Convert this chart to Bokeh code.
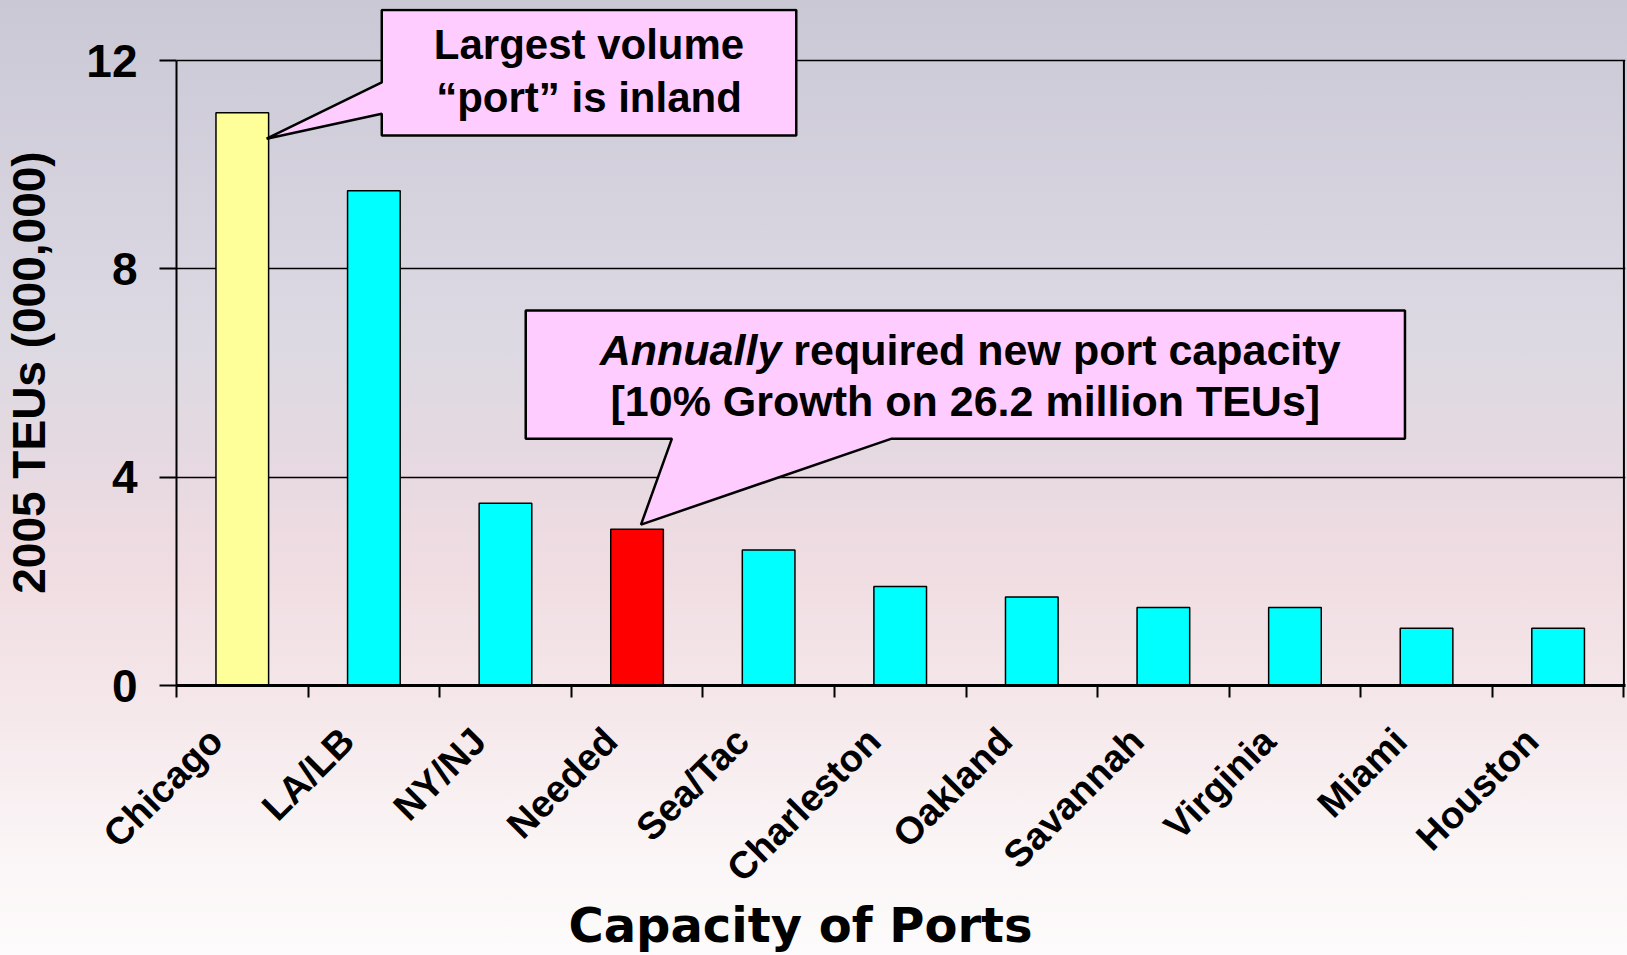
import math
from bokeh.plotting import figure
from bokeh.models import Range1d, FixedTicker, Title
from bokeh.core.properties import value
from bokeh.embed import file_html
from bokeh.resources import INLINE

# ---- data ----
ports = ["Chicago", "LA/LB", "NY/NJ", "Needed", "Sea/Tac", "Charleston",
         "Oakland", "Savannah", "Virginia", "Miami", "Houston"]
teus = [11.0, 9.5, 3.5, 3.0, 2.6, 1.9, 1.7, 1.5, 1.5, 1.1, 1.1]
y_ticks = [0, 4, 8, 12]
inland_port = "Chicago"
needed_item = "Needed"
y_label = "2005 TEUs (000,000)"
x_label = "Capacity of Ports"
note1 = ["Largest volume", "\u201cport\u201d is inland"]
note2_italic = "Annually"
note2_rest = "required new port capacity"
note2_line2 = "[10% Growth on 26.2 million TEUs]"

# ---- styling ----
BAR_W = 0.4
FONT = "Liberation Sans"
n = len(ports)
centers = [i + 0.5 for i in range(n)]
label_pos = [c - BAR_W / 2 for c in centers]
edges = list(range(n + 1))
colors = ["#ffff99" if c == inland_port else "#ff0000" if c == needed_item else "#00ffff"
          for c in ports]
y_top = y_ticks[-1]

p = figure(width=1627, height=955, x_range=Range1d(0, n + 0.012), y_range=Range1d(0, 13.0),
           output_backend="svg", toolbar_location=None,
           min_border_left=176, min_border_right=2, min_border_top=8, min_border_bottom=270)
p.outline_line_color = None
p.background_fill_alpha = 0
p.border_fill_alpha = 0
p.styles = {"background": "linear-gradient(to bottom, #cbc8d6 0%, #d5d2de 20%, #dcd9e3 35%, #e6d9e1 48%, #f0dde2 60%, #f5e8eb 75%, #faf4f5 88%, #fdfbfb 100%)"}

# bars
p.vbar(x=centers, top=teus, width=BAR_W, fill_color=colors, line_color="black", line_width=1.5)

# right frame border
p.segment(x0=[n], y0=[0], x1=[n], y1=[y_top], line_color="black", line_width=2)

# x axis
xa = p.xaxis[0]
xa.ticker = FixedTicker(ticks=label_pos, minor_ticks=edges)
xa.major_label_overrides = {c: name for c, name in zip(label_pos, ports)}
xa.major_tick_line_color = None
xa.minor_tick_out = 12
xa.minor_tick_in = 0
xa.minor_tick_line_width = 2
xa.minor_tick_line_color = "black"
xa.axis_line_width = 3
xa.axis_line_color = "black"
xa.major_label_orientation = math.pi / 4
xa.major_label_text_font = FONT
xa.major_label_text_font_style = "bold"
xa.major_label_text_font_size = "38px"
xa.major_label_text_color = "black"
xa.major_label_standoff = 37

# y axis
ya = p.yaxis[0]
ya.ticker = FixedTicker(ticks=y_ticks, minor_ticks=[])
ya.bounds = (0, y_top)
ya.major_tick_out = 17
ya.major_tick_in = 0
ya.major_tick_line_width = 2
ya.major_tick_line_color = "black"
ya.axis_line_width = 2
ya.axis_line_color = "black"
ya.major_label_text_font = FONT
ya.major_label_text_font_style = "bold"
ya.major_label_text_font_size = "46px"
ya.major_label_text_color = "black"
ya.major_label_standoff = 22
# label is centred on the frame (0..13); trailing no-break spaces centre the
# visible text on the 0..12 span like the original
ya.axis_label = y_label + "\u00a0" * 4
ya.axis_label_text_font = FONT
ya.axis_label_text_font_style = "bold"
ya.axis_label_text_font_size = "46px"
ya.axis_label_text_color = "black"
ya.axis_label_standoff = 28

# grid
p.xgrid.visible = False
p.ygrid.grid_line_color = "black"
p.ygrid.grid_line_width = 1.5
p.ygrid.grid_line_alpha = 1

# x title
p.add_layout(Title(text=x_label, align="left", offset=392, text_font="DejaVu Sans",
                   text_font_style="bold", text_font_size="48px", text_color="black",
                   standoff=-26), "below")

# ---- callout 1 ----
i_chi = ports.index(inland_port)
tip1 = (centers[i_chi] + BAR_W / 2 - 0.015, teus[i_chi] - 0.5)
b1 = (1.56, 4.71, 10.56, 12.97)
p.patch(x=[tip1[0], b1[0], b1[0], b1[1], b1[1], b1[0], b1[0]],
        y=[tip1[1], 10.98, b1[2], b1[2], b1[3], b1[3], 11.58],
        fill_color="#ffccff", line_color="black", line_width=2.5)
cx1 = (b1[0] + b1[1]) / 2
p.text(x=[cx1, cx1], y=[12.30, 11.30], text=note1, text_font=value(FONT),
       text_font_style="bold", text_font_size="42px", text_align="center",
       text_baseline="middle", text_color="black")

# ---- callout 2 ----
i_need = ports.index(needed_item)
tip2 = (centers[i_need] + 0.03, teus[i_need] + 0.09)
b2 = (2.654, 9.336, 4.74, 7.20)
p.patch(x=[tip2[0], 3.765, b2[0], b2[0], b2[1], b2[1], 5.435],
        y=[tip2[1], b2[2], b2[2], b2[3], b2[3], b2[2], b2[2]],
        fill_color="#ffccff", line_color="black", line_width=2.5)
cx2 = (b2[0] + b2[1]) / 2
split = -184
p.text(x=[cx2], y=[6.44], text=[note2_italic], x_offset=split, text_font=value(FONT),
       text_font_style="bold italic", text_font_size="43px", text_align="right",
       text_baseline="middle", text_color="black")
p.text(x=[cx2], y=[6.44], text=[note2_rest], x_offset=split + 12, text_font=value(FONT),
       text_font_style="bold", text_font_size="43px", text_align="left",
       text_baseline="middle", text_color="black")
p.text(x=[cx2], y=[5.46], text=[note2_line2], text_font=value(FONT),
       text_font_style="bold", text_font_size="43px", text_align="center",
       text_baseline="middle", text_color="black")

open("out.html", "w").write(file_html(p, INLINE))
